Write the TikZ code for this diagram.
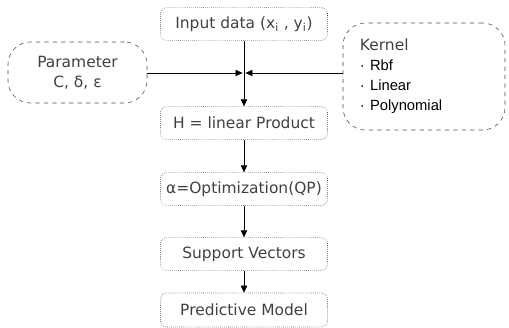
\documentclass[tikz,border=0pt]{standalone}
\usepackage{fontspec}
\setmainfont{DejaVu Sans}
\newfontfamily\listfont{Liberation Sans}
\usetikzlibrary{arrows.meta, positioning}

\begin{document}
\begin{tikzpicture}[x=0.025cm, y=-0.025cm,
  stepbox/.style={draw=black!70, densely dotted, rounded corners=4pt, minimum width=4.175cm, minimum height=0.82cm, inner sep=0pt, font=\fontsize{11}{13}\selectfont, text=black!75},
  sidebox/.style={draw=black!70, dashed, rounded corners=16pt, inner sep=0pt, font=\fontsize{11}{14.2}\selectfont, text=black!75},
  flow/.style={-{Triangle[length=5pt,width=4.5pt]}, black, thin}]
  \useasboundingbox (0,0) rectangle (509,328);
  % main chain
  \node[stepbox] (input) at (244,24) {Input data (x\textsubscript{i} , y\textsubscript{i})};
  \node[stepbox] (hprod) at (244,123) {H = linear Product};
  \node[stepbox] (optim) at (244,189) {α=Optimization(QP)};
  \node[stepbox] (svec) at (244,254) {Support Vectors};
  \node[stepbox, minimum height=0.85cm] (model) at (244,310) {Predictive Model};
  % side boxes
  \node[sidebox, minimum width=3.475cm, minimum height=1.525cm, align=center] (param) at (77.5,72.5) {Parameter\\C, δ, ε};
  \node[sidebox, minimum height=2.675cm, text width=3.2cm, inner xsep=0.425cm, align=left] (kernel) at (424,76.5)
    {Kernel\\{\listfont\fontsize{10.5}{14.2}\selectfont\color{black}· Rbf\\· Linear\\· Polynomial}};
  \coordinate (join) at (244,73);
  % connectors
  \draw[black, thin] (input) -- (join);
  \draw[flow] (join) -- (hprod);
  \draw[flow] (param.east |- join) -- ([xshift=-1pt]join);
  \draw[flow] (kernel.west |- join) -- ([xshift=1pt]join);
  \draw[flow] (hprod) -- (optim);
  \draw[flow] (optim) -- (svec);
  \draw[flow] (svec) -- (model);
\end{tikzpicture}
\end{document}
